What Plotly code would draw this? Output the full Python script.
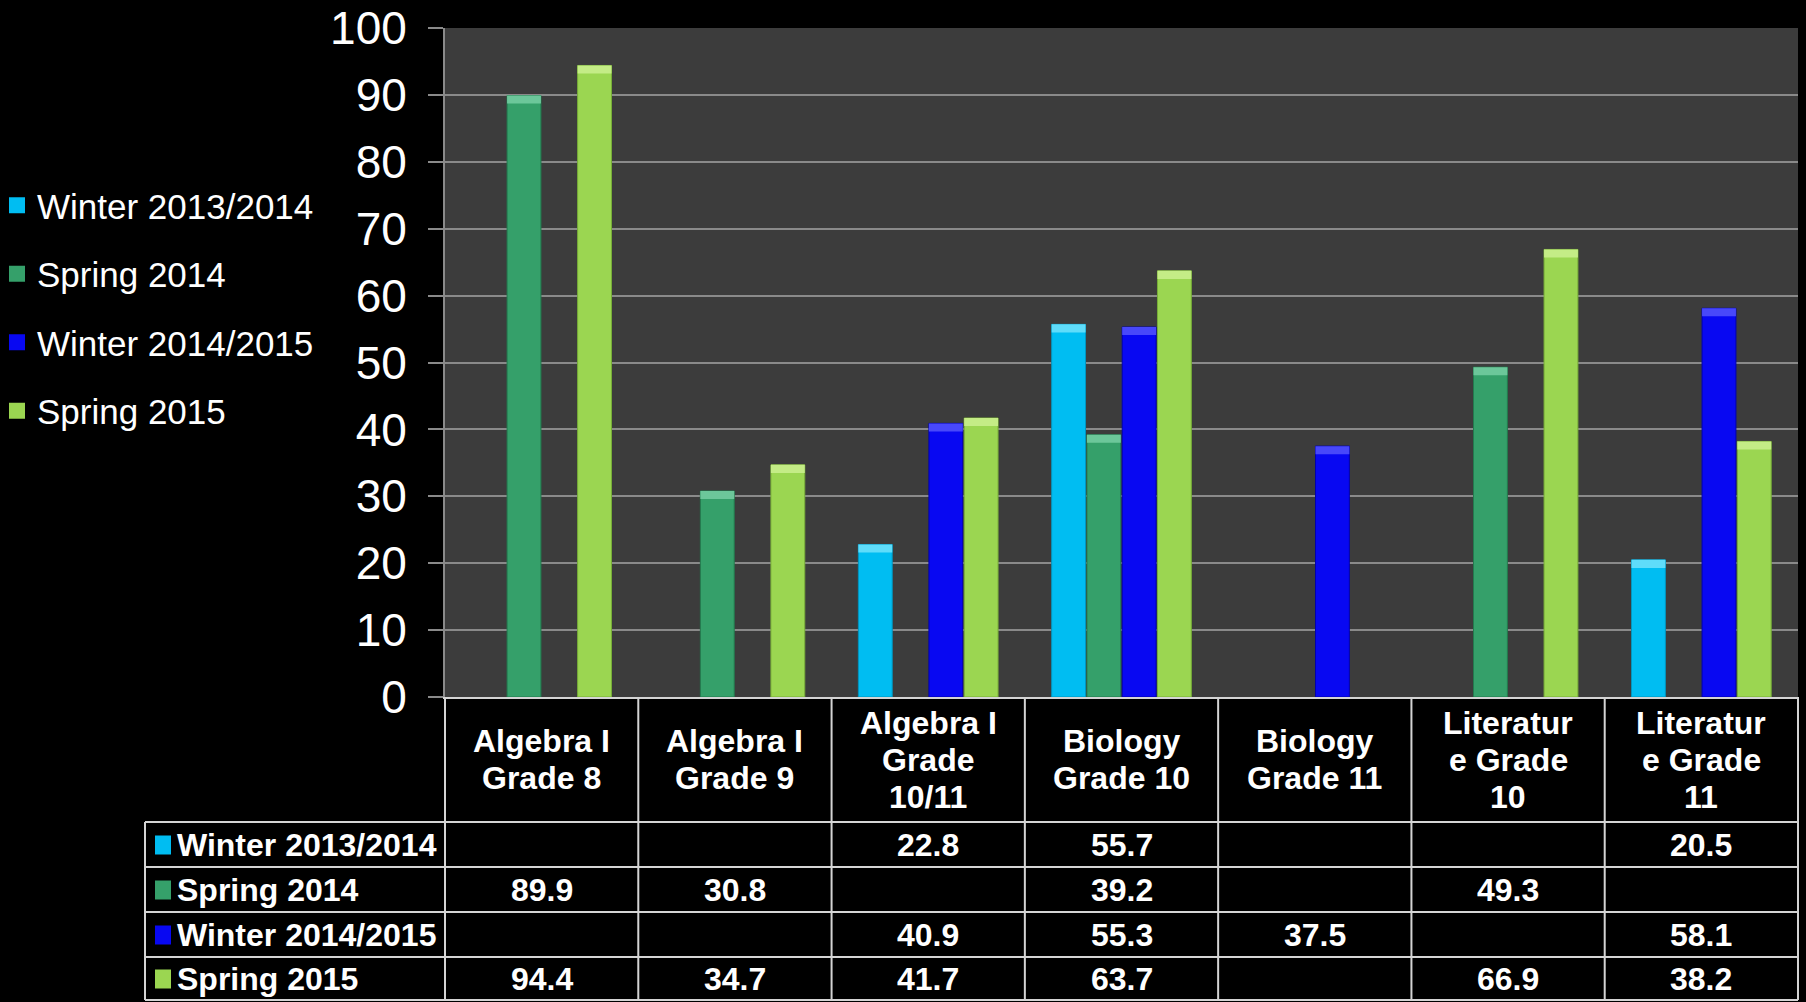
import plotly.graph_objects as go

# ---------------- data ----------------
categories = [
    "Algebra I<br>Grade 8",
    "Algebra I<br>Grade 9",
    "Algebra I<br>Grade<br>10/11",
    "Biology<br>Grade 10",
    "Biology<br>Grade 11",
    "Literatur<br>e Grade<br>10",
    "Literatur<br>e Grade<br>11",
]
series_names = ["Winter 2013/2014", "Spring 2014", "Winter 2014/2015", "Spring 2015"]
winter_1314 = [None, None, 22.8, 55.7, None, None, 20.5]
spring_2014 = [89.9, 30.8, None, 39.2, None, 49.3, None]
winter_1415 = [None, None, 40.9, 55.3, 37.5, None, 58.1]
spring_2015 = [94.4, 34.7, 41.7, 63.7, None, 66.9, 38.2]
series_values = [winter_1314, spring_2014, winter_1415, spring_2015]
y_ticks = [0, 10, 20, 30, 40, 50, 60, 70, 80, 90, 100]

colors = ["#00BDF2", "#35A06A", "#0808F2", "#9BD651"]
edge_colors = ["#0096C0", "#237A4E", "#0000B0", "#78AE38"]
cap_colors = ["#5FDCFA", "#6CC79A", "#4848FA", "#C4EC86"]

# ---------------- layout geometry (pixels) ----------------
W, H = 1806, 1002
L, R, T, B = 445, 1798, 28, 697
header_bottom = 822
row_edges = [822, 867, 912, 957, 1000]
label_left = 145
ncol = len(categories)
colw = (R - L) / ncol
header_line_gap = 37
cap_units = 1.2  # bevel height in axis units (visual styling)


def px(x):
    return (x - L) / (R - L)


def py(y):
    return (B - y) / (B - T)


FONT = "Liberation Sans, Arial, sans-serif"
TABLE_LINE = "#D4D4D4"
TABLE_FONT = 32

fig = go.Figure()

for gi, (name, vals, c, ec, cc) in enumerate(zip(series_names, series_values, colors, edge_colors, cap_colors)):
    fig.add_trace(go.Bar(
        x=categories, y=vals, name=name, offsetgroup=str(gi),
        marker=dict(color=c, line=dict(color=ec, width=1)),
        showlegend=False,
    ))
    # lighter bevel at the top of each bar
    fig.add_trace(go.Bar(
        x=categories,
        y=[cap_units if v is not None else None for v in vals],
        base=[v - cap_units if v is not None else None for v in vals],
        offsetgroup=str(gi), name=name,
        marker=dict(color=cc, line=dict(width=0)),
        showlegend=False, hoverinfo="skip",
    ))
    # legend entry with larger square swatch
    fig.add_trace(go.Scatter(
        x=[None], y=[None], name=name, mode="markers",
        marker=dict(symbol="square", size=16, color=c),
        legendgroup=name, showlegend=True,
    ))

shapes = []
annotations = []

# table horizontal lines
for yy in row_edges:
    shapes.append(dict(type="line", xref="paper", yref="paper",
                       x0=px(label_left), x1=px(R), y0=py(yy), y1=py(yy),
                       line=dict(color=TABLE_LINE, width=2)))
# table vertical lines
shapes.append(dict(type="line", xref="paper", yref="paper",
                   x0=px(label_left), x1=px(label_left), y0=py(header_bottom), y1=py(row_edges[-1]),
                   line=dict(color=TABLE_LINE, width=2)))
for k in range(ncol + 1):
    xx = L + k * colw
    shapes.append(dict(type="line", xref="paper", yref="paper",
                       x0=px(xx), x1=px(xx), y0=py(B), y1=py(row_edges[-1]),
                       line=dict(color=TABLE_LINE, width=2)))

# header labels (one annotation per line for tighter line spacing)
header_center = (B + header_bottom) / 2
for cat in categories:
    lines = cat.split("<br>")
    n = len(lines)
    for j, line in enumerate(lines):
        yline = header_center + (j - (n - 1) / 2) * header_line_gap
        annotations.append(dict(x=cat, xref="x", y=py(yline), yref="paper",
                                text="<b>" + line + "</b>", showarrow=False,
                                xanchor="center", yanchor="middle",
                                font=dict(family=FONT, size=TABLE_FONT, color="white")))

# row labels and values
for i, (name, vals, c) in enumerate(zip(series_names, series_values, colors)):
    yc = (row_edges[i] + row_edges[i + 1]) / 2
    shapes.append(dict(type="rect", xref="paper", yref="paper",
                       x0=px(155), x1=px(171), y0=py(yc - 9), y1=py(yc + 10),
                       fillcolor=c, line=dict(width=0)))
    annotations.append(dict(x=px(175), xref="paper", y=py(yc), yref="paper",
                            text="<b>" + name + "</b>", showarrow=False,
                            xanchor="left", yanchor="middle",
                            font=dict(family=FONT, size=TABLE_FONT, color="white")))
    for cat, v in zip(categories, vals):
        if v is None:
            continue
        annotations.append(dict(x=cat, xref="x", y=py(yc), yref="paper",
                                text="<b>%.1f</b>" % v, showarrow=False,
                                xanchor="center", yanchor="middle",
                                font=dict(family=FONT, size=TABLE_FONT, color="white")))

fig.update_layout(
    width=W, height=H,
    margin=dict(l=L, r=W - R, t=T, b=H - B, pad=0, autoexpand=False),
    paper_bgcolor="black",
    plot_bgcolor="#3C3C3C",
    barmode="group",
    bargap=0.27,
    bargroupgap=0.04,
    font=dict(family=FONT, color="white"),
    legend=dict(
        x=px(-3), y=py(176), xanchor="left", yanchor="top",
        font=dict(family=FONT, size=35, color="white"),
        bgcolor="rgba(0,0,0,0)",
        traceorder="grouped", tracegroupgap=20,
        itemwidth=30,
    ),
    xaxis=dict(
        showticklabels=False, showgrid=False, ticks="",
        showline=True, linecolor=TABLE_LINE, linewidth=2,
        zeroline=False, automargin=False,
    ),
    yaxis=dict(
        range=[0, 100], tickvals=y_ticks, ticktext=[str(t) for t in y_ticks],
        tickfont=dict(family=FONT, size=46, color="white"),
        ticks="outside", ticklen=15, tickcolor="#8A8A8A", tickwidth=2,
        ticklabelstandoff=12,
        showgrid=True, gridcolor="#8A8A8A", gridwidth=2,
        showline=True, linecolor="#8A8A8A", linewidth=2,
        zeroline=False, automargin=False,
    ),
    shapes=shapes,
    annotations=annotations,
)

fig.write_html(
    "out.html",
    config={"displayModeBar": False},
    post_script="document.body.style.margin='0';document.body.style.background='black';"
                "document.body.style.overflow='hidden';",
)
